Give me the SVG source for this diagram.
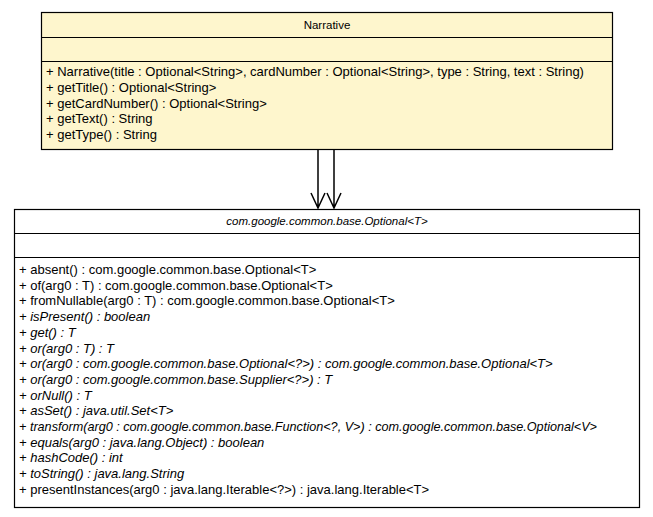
<svg xmlns="http://www.w3.org/2000/svg" width="653" height="517" viewBox="0 0 653 517">
<style>
text{font-family:"Liberation Sans",Arial,sans-serif;font-size:13px;fill:#000}
.i{font-style:italic}
.c{text-anchor:middle;font-size:11.5px}
.box{stroke:#000;stroke-width:1.2}
.ln{stroke:#000;stroke-width:1.2}
.conn{stroke:#000;stroke-width:1.5;fill:none}
</style>
<rect width="653" height="517" fill="#fff"/>
<g id="Narrative">
<rect class="box" x="41.5" y="12.5" width="571" height="137" fill="#fef6cd"/>
<line class="ln" x1="41.5" y1="37.5" x2="612.5" y2="37.5"/>
<line class="ln" x1="41.5" y1="61.5" x2="612.5" y2="61.5"/>
<text class="c" x="327" y="29">Narrative</text>
<text x="46" y="76">+ Narrative(title : Optional&lt;String&gt;, cardNumber : Optional&lt;String&gt;, type : String, text : String)</text>
<text x="46" y="92">+ getTitle() : Optional&lt;String&gt;</text>
<text x="46" y="107.5">+ getCardNumber() : Optional&lt;String&gt;</text>
<text x="46" y="123">+ getText() : String</text>
<text x="46" y="139">+ getType() : String</text>
</g>
<g id="Optional">
<rect class="box" x="14.5" y="209.5" width="625" height="298" fill="#fff"/>
<line class="ln" x1="14.5" y1="233.5" x2="639.5" y2="233.5"/>
<line class="ln" x1="14.5" y1="257.5" x2="639.5" y2="257.5"/>
<text class="c i" x="327" y="225">com.google.common.base.Optional&lt;T&gt;</text>
<text x="19" y="274">+ absent() : com.google.common.base.Optional&lt;T&gt;</text>
<text x="19" y="289.7">+ of(arg0 : T) : com.google.common.base.Optional&lt;T&gt;</text>
<text x="19" y="305.4">+ fromNullable(arg0 : T) : com.google.common.base.Optional&lt;T&gt;</text>
<text class="i" x="19" y="321.1">+ isPresent() : boolean</text>
<text class="i" x="19" y="336.8">+ get() : T</text>
<text class="i" x="19" y="352.5">+ or(arg0 : T) : T</text>
<text class="i" x="19" y="368.2">+ or(arg0 : com.google.common.base.Optional&lt;?&gt;) : com.google.common.base.Optional&lt;T&gt;</text>
<text class="i" x="19" y="383.9">+ or(arg0 : com.google.common.base.Supplier&lt;?&gt;) : T</text>
<text class="i" x="19" y="399.6">+ orNull() : T</text>
<text class="i" x="19" y="415.3">+ asSet() : java.util.Set&lt;T&gt;</text>
<text class="i" x="19" y="431" textLength="578" lengthAdjust="spacingAndGlyphs">+ transform(arg0 : com.google.common.base.Function&lt;?, V&gt;) : com.google.common.base.Optional&lt;V&gt;</text>
<text class="i" x="19" y="446.7">+ equals(arg0 : java.lang.Object) : boolean</text>
<text class="i" x="19" y="462.4">+ hashCode() : int</text>
<text class="i" x="19" y="478.1">+ toString() : java.lang.String</text>
<text x="19" y="493.8">+ presentInstances(arg0 : java.lang.Iterable&lt;?&gt;) : java.lang.Iterable&lt;T&gt;</text>
</g>
<g id="connectors">
<path class="conn" d="M318,150 V208 M311,193 L318,208 L325,193"/>
<path class="conn" d="M334,150 V208 M327,193 L334,208 L341,193"/>
</g>
</svg>
